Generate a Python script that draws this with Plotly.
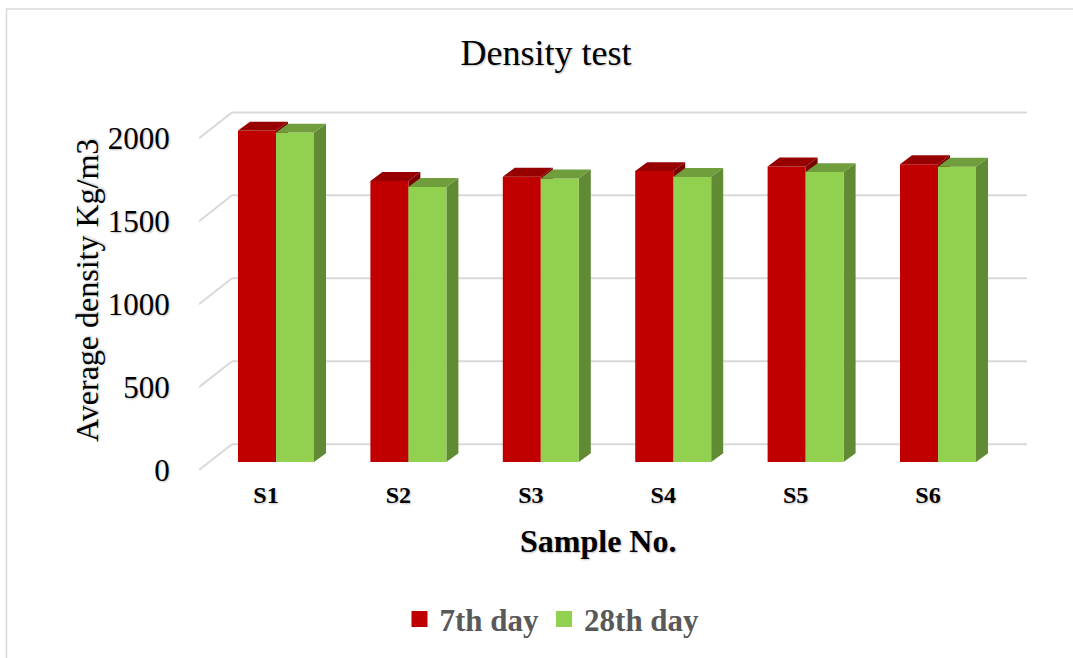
import plotly.graph_objects as go

# ---- data ----
categories = ["S1", "S2", "S3", "S4", "S5", "S6"]
day7 = [1998, 1694, 1720, 1754, 1782, 1796]
day28 = [1986, 1658, 1710, 1718, 1748, 1780]
y_ticks = [0, 500, 1000, 1500, 2000]
series_names = ["7th day", "28th day"]

# ---- geometry (layout constants) ----
FIG_W, FIG_H = 1073, 658
L, R, T, B = 199, 1035, 90, 480
K = 0.16675                 # px per value unit
ZERO_PX = 472               # pixel row of value 0 at front plane
Y0 = (ZERO_PX - B) / K
Y1 = (ZERO_PX - T) / K
WALL_DX, WALL_DY = 33, 26 / K        # full depth offset (x units = px, y units = value)
FRONT_DX, FRONT_DY = 10, 8 / K       # bar front plane offset
BAR_DX, BAR_DY = 12, 9 / K           # bar depth
CAT0, CAT_STEP = 67, 132.4
BAR_W = 38
GRID_END = 828

FONT = "Liberation Serif"
RED = dict(front="#C00000", top="#960000", side="#7A0000")
GREEN = dict(front="#92D050", top="#709E3C", side="#608A34")

cat_x = [CAT0 + CAT_STEP * i for i in range(len(categories))]

fig = go.Figure()

def poly(xs, ys, color):
    fig.add_trace(go.Scatter(x=xs + [xs[0]], y=ys + [ys[0]], mode="lines",
                             fill="toself", fillcolor=color,
                             line=dict(width=0, color=color),
                             showlegend=False, hoverinfo="skip"))

# 3D bars: side, front, top faces, drawn in depth order per category
for i, c in enumerate(cat_x):
    for vals, col, sgn in [(day7, RED, -1), (day28, GREEN, 1)]:
        v = vals[i]
        x0 = c + FRONT_DX + (sgn - 1) * BAR_W / 2
        x1 = x0 + BAR_W
        yb = FRONT_DY
        yt = FRONT_DY + v
        poly([x1, x1 + BAR_DX, x1 + BAR_DX, x1], [yb, yb + BAR_DY, yt + BAR_DY, yt], col["side"])
        poly([x0, x1, x1, x0], [yb, yb, yt, yt], col["front"])
        poly([x0, x1, x1 + BAR_DX, x0 + BAR_DX], [yt, yt, yt + BAR_DY, yt + BAR_DY], col["top"])

# legend entries
for name, col in zip(series_names, [RED, GREEN]):
    fig.add_trace(go.Scatter(x=[None], y=[None], mode="markers", name=name,
                             marker=dict(symbol="square", size=16, color=col["front"]),
                             showlegend=True))

# gridlines: diagonal + back wall
shapes = []
for v in y_ticks:
    shapes.append(dict(type="line", xref="x", yref="y", x0=0, y0=v, x1=WALL_DX, y1=v + WALL_DY,
                       line=dict(color="#d9d9d9", width=2), layer="below"))
    shapes.append(dict(type="line", xref="x", yref="y", x0=WALL_DX, y0=v + WALL_DY, x1=GRID_END,
                       y1=v + WALL_DY, line=dict(color="#d9d9d9", width=2), layer="below"))

def px_to_paper_x(px):
    return (px - L) / (R - L)

def px_to_paper_y(py):
    return (B - py) / (B - T)

# chart border (top & left visible)
shapes.append(dict(type="rect", xref="paper", yref="paper",
                   x0=px_to_paper_x(6.5), y0=px_to_paper_y(680),
                   x1=px_to_paper_x(1100), y1=px_to_paper_y(8.5),
                   line=dict(color="#d9d9d9", width=1.5), layer="below"))

shadow = "1px 1px 2px rgba(0,0,0,0.25)"

annotations = [
    dict(text="Average density Kg/m3", textangle=-90, xref="paper", yref="paper",
         x=px_to_paper_x(87), y=px_to_paper_y(292), showarrow=False,
         font=dict(family=FONT, size=32, color="#000000", shadow=shadow),
         xanchor="center", yanchor="middle"),
    dict(text="<b>Sample No.</b>", xref="paper", yref="paper",
         x=px_to_paper_x(598), y=px_to_paper_y(543), showarrow=False,
         font=dict(family=FONT, size=32, color="#000000", shadow=shadow),
         xanchor="center", yanchor="middle"),
]

fig.update_layout(
    width=FIG_W, height=FIG_H,
    margin=dict(l=L, r=FIG_W - R, t=T, b=FIG_H - B),
    paper_bgcolor="white", plot_bgcolor="white",
    title=dict(text="Density test", x=546 / FIG_W, xanchor="center",
               y=1 - 52 / FIG_H, yanchor="middle", yref="container",
               font=dict(family=FONT, size=36, color="#000000", shadow=shadow)),
    xaxis=dict(range=[0, R - L], tickvals=cat_x, ticktext=categories,
               showgrid=False, zeroline=False, showline=False,
               ticks="", ticklen=0,
               tickfont=dict(family=FONT, size=24, color="#000000", weight="bold", shadow=shadow),
               fixedrange=True),
    yaxis=dict(range=[Y0, Y1], tickvals=y_ticks, ticktext=[str(v) for v in y_ticks],
               showgrid=False, zeroline=False, showline=False,
               ticks="outside", ticklen=22, tickcolor="rgba(0,0,0,0)",
               tickfont=dict(family=FONT, size=31, color="#000000", shadow=shadow),
               fixedrange=True),
    legend=dict(orientation="h", x=px_to_paper_x(552), xanchor="center",
                y=px_to_paper_y(622), yanchor="middle",
                font=dict(family=FONT, size=31, color="#595959", weight="bold"),
                itemclick=False, bgcolor="rgba(0,0,0,0)"),
    shapes=shapes,
    annotations=annotations,
    showlegend=True,
)

fig.write_html("out.html")
